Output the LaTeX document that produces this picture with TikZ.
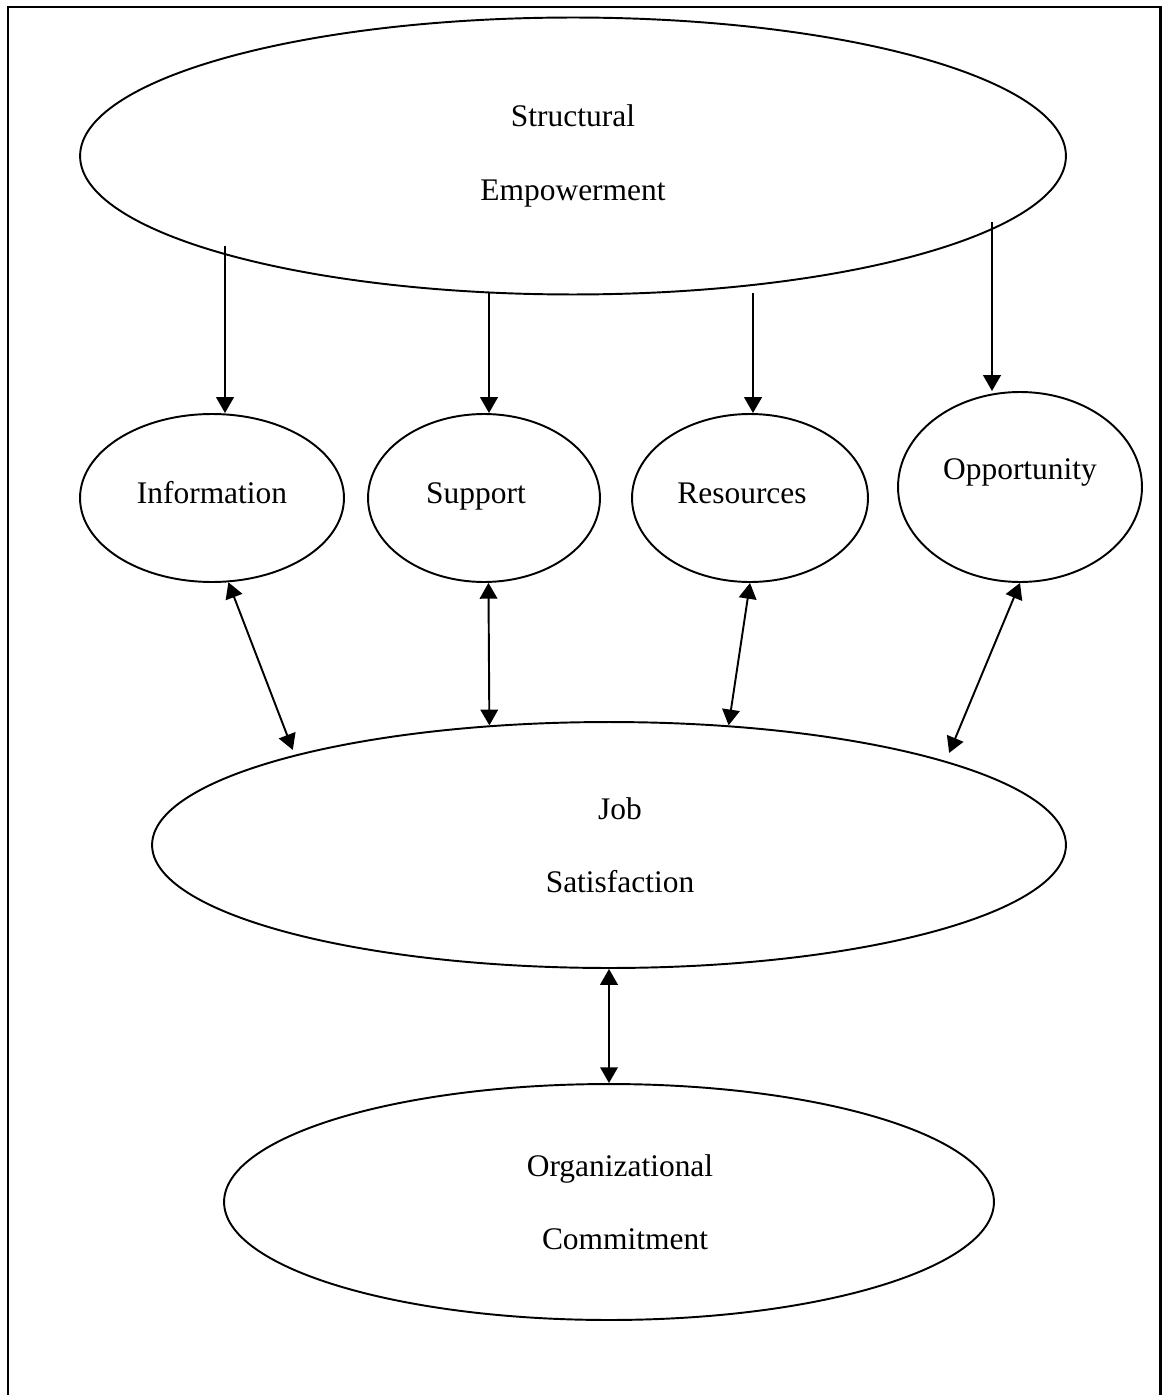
\documentclass[tikz,border=0pt]{standalone}
\usepackage{fontspec}
\setmainfont{Liberation Serif}
\usetikzlibrary{shapes.geometric,arrows.meta}

\begin{document}
\begin{tikzpicture}[x=0.02cm, y=-0.02cm,
    construct/.style ={ellipse, draw, line width=1.1pt, inner sep=0pt, align=center,
      font=\fontsize{17.9pt}{41.7pt}\selectfont},
    path/.style ={line width=1.1pt, -{Triangle[length=9pt,width=10pt]}},
    both/.style ={line width=1.1pt, {Triangle[length=9pt,width=10pt]}-{Triangle[length=9pt,width=10pt]}}]
   \useasboundingbox (0,0) rectangle (1162,1395);
   \draw[line width=1.7pt] (8,1400) -- (8,7) -- (1160,7) -- (1160,1400);
   \node[construct, minimum width=19.72cm, minimum height=5.54cm] (SE) at (573,156) {Structural\\Empowerment};
   \node[construct, minimum width=5.28cm, minimum height=3.36cm, text height=12pt, text depth=6pt] (Info) at (212,498) {Information};
   \node[construct, minimum width=4.64cm, minimum height=3.36cm, text height=12pt, text depth=6pt] (Sup) at (484,498) {Support\hspace*{0.32cm}};
   \node[construct, minimum width=4.72cm, minimum height=3.36cm, text height=12pt, text depth=6pt] (Res) at (750,498) {Resources\hspace*{0.32cm}};
   \node[construct, minimum width=4.88cm, minimum height=3.80cm, text height=12pt, text depth=21pt] (Opp) at (1020,487) {Opportunity};
   \node[construct, minimum width=18.28cm, minimum height=4.92cm] (JS) at (609,845) {\hspace*{0.44cm}Job\\\hspace*{0.44cm}Satisfaction};
   \node[construct, minimum width=15.40cm, minimum height=4.72cm] (OC) at (609,1202) {\hspace*{0.44cm}Organizational\\\hspace*{0.64cm}Commitment};
   \coordinate (s1) at (225,246);
   \coordinate (s2) at (489,293);
   \coordinate (s3) at (753,293);
   \coordinate (s4) at (992,222);
   \draw[path] (s1) -- (s1 |- Info.north);
   \draw[path] (s2) -- (s2 |- Sup.north);
   \draw[path] (s3) -- (s3 |- Res.north);
   \draw[path] (s4) -- (s4 |- Opp.north);
   \draw[both, shorten >=3pt] (Info.281) -- (JS.164);
   \draw[both] (Sup.273) -- (JS.135);
   \draw[both] (Res.south) -- (JS.45);
   \draw[both, shorten >=5pt] (Opp.south) -- (JS.14);
   \draw[both] (JS.south) -- (OC.north);
\end{tikzpicture}
\end{document}
